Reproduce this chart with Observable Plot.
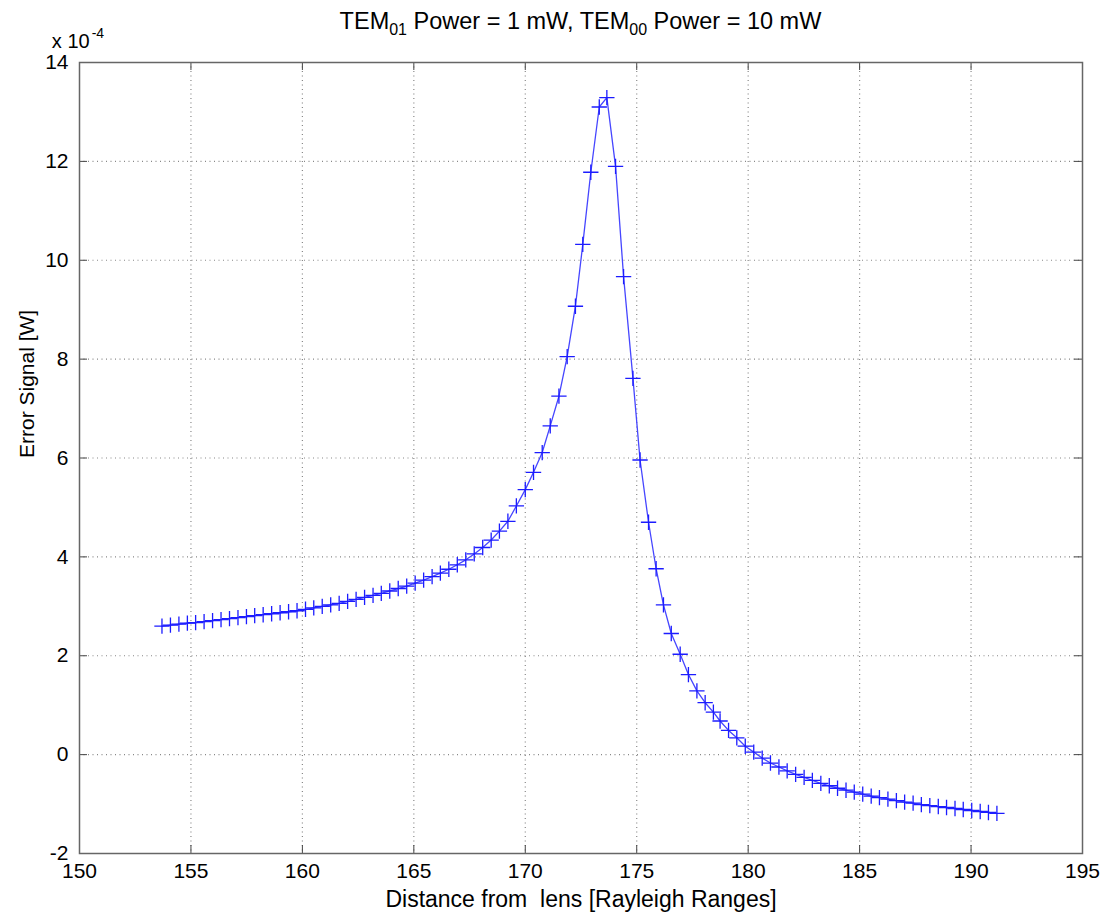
<!DOCTYPE html>
<html><head><meta charset="utf-8">
<script src="https://cdn.jsdelivr.net/npm/d3@7"></script>
<script src="https://cdn.jsdelivr.net/npm/@observablehq/plot@0.6"></script>
<style>
body{margin:0;background:#fff;}
#chart{width:1106px;height:916px;}
svg text{white-space:pre;}
</style></head><body><div id="chart"></div>
<script>
// Distance from lens [Rayleigh ranges]
const distance = [
153.70,154.08,154.46,154.84,155.21,155.59,155.97,156.35,156.73,157.11,
157.49,157.86,158.24,158.62,159.00,159.38,159.76,160.14,160.51,160.89,
161.27,161.65,162.03,162.41,162.79,163.17,163.54,163.92,164.30,164.68,
165.06,165.44,165.82,166.19,166.57,166.95,167.33,167.71,168.09,168.47,
168.84,169.22,169.60,170.00,170.37,170.76,171.12,171.51,171.88,172.25,
172.58,172.94,173.32,173.66,174.05,174.41,174.83,175.15,175.53,175.87,
176.20,176.55,176.95,177.32,177.70,178.07,178.44,178.74,179.12,179.49,
179.87,180.25,180.63,181.00,181.38,181.75,182.13,182.51,182.88,183.26,
183.64,184.01,184.39,184.76,185.14,185.52,185.89,186.27,186.65,187.02,
187.40,187.77,188.15,188.53,188.90,189.28,189.65,190.03,190.41,190.78,
191.16];
// Error signal, in units of 1e-4 W
const errorSignal = [
2.60,2.62,2.64,2.66,2.67,2.69,2.71,2.73,2.75,2.77,
2.79,2.81,2.83,2.85,2.87,2.89,2.91,2.94,2.97,3.00,
3.03,3.06,3.10,3.14,3.18,3.22,3.26,3.31,3.36,3.41,
3.47,3.53,3.60,3.67,3.75,3.84,3.94,4.06,4.19,4.34,
4.52,4.72,5.03,5.36,5.71,6.11,6.65,7.25,8.05,9.07,
10.32,11.78,13.10,13.29,11.90,9.67,7.61,5.96,4.70,3.76,
3.03,2.45,2.03,1.62,1.29,1.05,0.86,0.68,0.49,0.34,
0.17,0.05,-0.07,-0.17,-0.25,-0.33,-0.40,-0.46,-0.52,-0.58,
-0.63,-0.68,-0.72,-0.76,-0.80,-0.84,-0.87,-0.90,-0.93,-0.96,
-0.98,-1.01,-1.03,-1.05,-1.07,-1.09,-1.11,-1.13,-1.15,-1.17,
-1.19];
const xTicks = [150,155,160,165,170,175,180,185,190,195];
const yTicks = [-2,0,2,4,6,8,10,12,14];
const xLabel = "Distance from  lens [Rayleigh Ranges]";
const yLabel = "Error Signal [W]";
const scaleNote = ["x 10", "-4"];
const titleParts = [["TEM",false],["01",true],[" Power = 1 mW, TEM",false],["00",true],[" Power = 10 mW",false]];

const data = distance.map((x, i) => ({x, y: errorSignal[i]}));

const W = 1106, H = 916, mL = 79, mR = 24, mT = 62, mB = 63;
const pw = W - mL - mR, ph = H - mT - mB, tk = 8;
const font = "'Liberation Sans', Arial, Helvetica, sans-serif";

const chart = Plot.plot({
  width: W, height: H,
  marginLeft: mL, marginRight: mR, marginTop: mT, marginBottom: mB,
  style: {fontFamily: font, fontSize: "21px", color: "#000", background: "#fff", overflow: "visible"},
  x: {domain: [150, 195]},
  y: {domain: [-2, 14]},
  marks: [
    Plot.ruleX(xTicks.slice(1, -1), {x: d => d, stroke: "#888", strokeDasharray: "1,3.5", strokeWidth: 1.2}),
    Plot.ruleY(yTicks.slice(1, -1), {y: d => d, stroke: "#888", strokeDasharray: "1,3.5", strokeWidth: 1.2}),
    Plot.tickX(xTicks, {x: d => d, stroke: "#444", insetTop: ph - tk}),
    Plot.tickX(xTicks, {x: d => d, stroke: "#444", insetBottom: ph - tk}),
    Plot.tickY(yTicks, {y: d => d, stroke: "#444", insetRight: pw - tk}),
    Plot.tickY(yTicks, {y: d => d, stroke: "#444", insetLeft: pw - tk}),
    Plot.frame({stroke: "#666", strokeWidth: 1.5}),
    Plot.axisX(xTicks, {tickSize: 0, tickPadding: 10, label: null, tickFormat: d => String(d), fontSize: 21}),
    Plot.axisY(yTicks, {tickSize: 0, tickPadding: 11, label: null, tickFormat: d => String(d), fontSize: 21}),
    Plot.text([xLabel], {frameAnchor: "bottom", text: d => d, dy: 53, fontSize: 23, fill: "#000"}),
    Plot.text([yLabel], {frameAnchor: "left", text: d => d, dx: -52, rotate: -90, fontSize: 21, fill: "#000"}),
    Plot.line(data, {x: "x", y: "y", stroke: "#4646ff", strokeWidth: 1.3}),
    Plot.dot(data, {x: "x", y: "y", symbol: "plus", r: 5, stroke: "#1c1cff", strokeWidth: 1.3})
  ]
});
document.getElementById("chart").appendChild(chart);

const svg = d3.select(chart);
// title with subscripts
const t = svg.append("text").attr("x", mL + pw / 2).attr("y", 29)
  .attr("text-anchor", "middle").style("font-family", font).style("font-size", "23.5px").attr("fill", "#000");
let sub = false;
titleParts.forEach(([s, isSub]) => {
  const sp = t.append("tspan").text(s);
  if (isSub && !sub) { sp.attr("dy", 6).style("font-size", "16px"); sub = true; }
  else if (!isSub && sub) { sp.attr("dy", -6); sub = false; }
  else if (isSub) sp.style("font-size", "16px");
});
// scale note x 10^-4
const n = svg.append("text").attr("x", 78).attr("y", 48)
  .style("font-family", font).style("font-size", "20px").attr("fill", "#000");
n.append("tspan").text(scaleNote[0]);
n.append("tspan").text(scaleNote[1]).attr("dx", 2).attr("dy", -10).style("font-size", "14px");
</script>
</body></html>
